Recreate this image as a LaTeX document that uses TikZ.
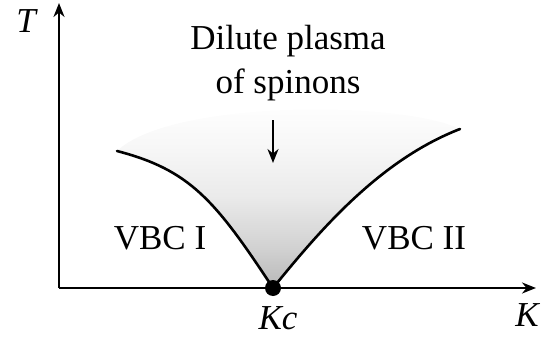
\documentclass[tikz,border=0pt]{standalone}
\usepackage{fontspec}
\setmainfont{Liberation Serif}
\usetikzlibrary{arrows.meta}
\pgfdeclareverticalshading{plasma}{100bp}{color(0bp)=(black!28); color(25bp)=(black!28); color(35.5bp)=(black!18); color(49.5bp)=(black!8); color(63bp)=(black!3); color(75bp)=(white); color(100bp)=(white)}
\begin{document}
\begin{tikzpicture}[x=1pt,y=-1pt,
  axis/.style={line width=2.2pt,-{Stealth[length=14pt,width=11pt]}},
  phase/.style={line width=2.6pt,line cap=round},
  lbl/.style={font=\fontsize{35}{40}\selectfont,inner sep=0pt,anchor=base},
  pointer/.style={line width=2pt,-{Stealth[length=14pt,width=11pt]}}]
\useasboundingbox (0,0) rectangle (554,337);
% key points
\coordinate (O) at (59,288);
\coordinate (Ytop) at (59,3);
\coordinate (Xend) at (536,288);
\coordinate (Kc) at (273,288);
\coordinate (Lstart) at (117,151);
\coordinate (Rend) at (460,129);
% shaded region
\shade[shading=plasma]
  (Lstart) .. controls (190,170) and (215,200) .. (Kc)
  .. controls (320,230) and (380,160) .. (Rend)
  .. controls (400,100) and (170,100) .. (Lstart) -- cycle;
% axes
\draw[axis] (O) -- (Ytop);
\draw[axis] (O) -- (Xend);
% phase boundaries
\draw[phase] (Lstart) .. controls (190,170) and (215,200) .. (Kc);
\draw[phase] (Kc) .. controls (320,230) and (380,160) .. (Rend);
\node[circle,fill=black,inner sep=0pt,minimum size=16pt] (kcdot) at (Kc) {};
% labels
\node[lbl] (T) at (26,33) {\itshape T};
\node[lbl] (K) at (527,326) {\itshape K};
\node[lbl] (kclbl) at (278,329) {\itshape Kc};
\node[lbl] (dil) at (288,49) {Dilute plasma};
\node[lbl] (spin) at (288,93) {of spinons};
\node[lbl] (v1) at (160,249) {VBC I};
\node[lbl] (v2) at (414,249) {VBC II};
\coordinate (arrtop) at (273,120);
\coordinate (arrbot) at (273,163);
\draw[pointer] (arrtop) -- (arrbot);
\end{tikzpicture}
\end{document}
